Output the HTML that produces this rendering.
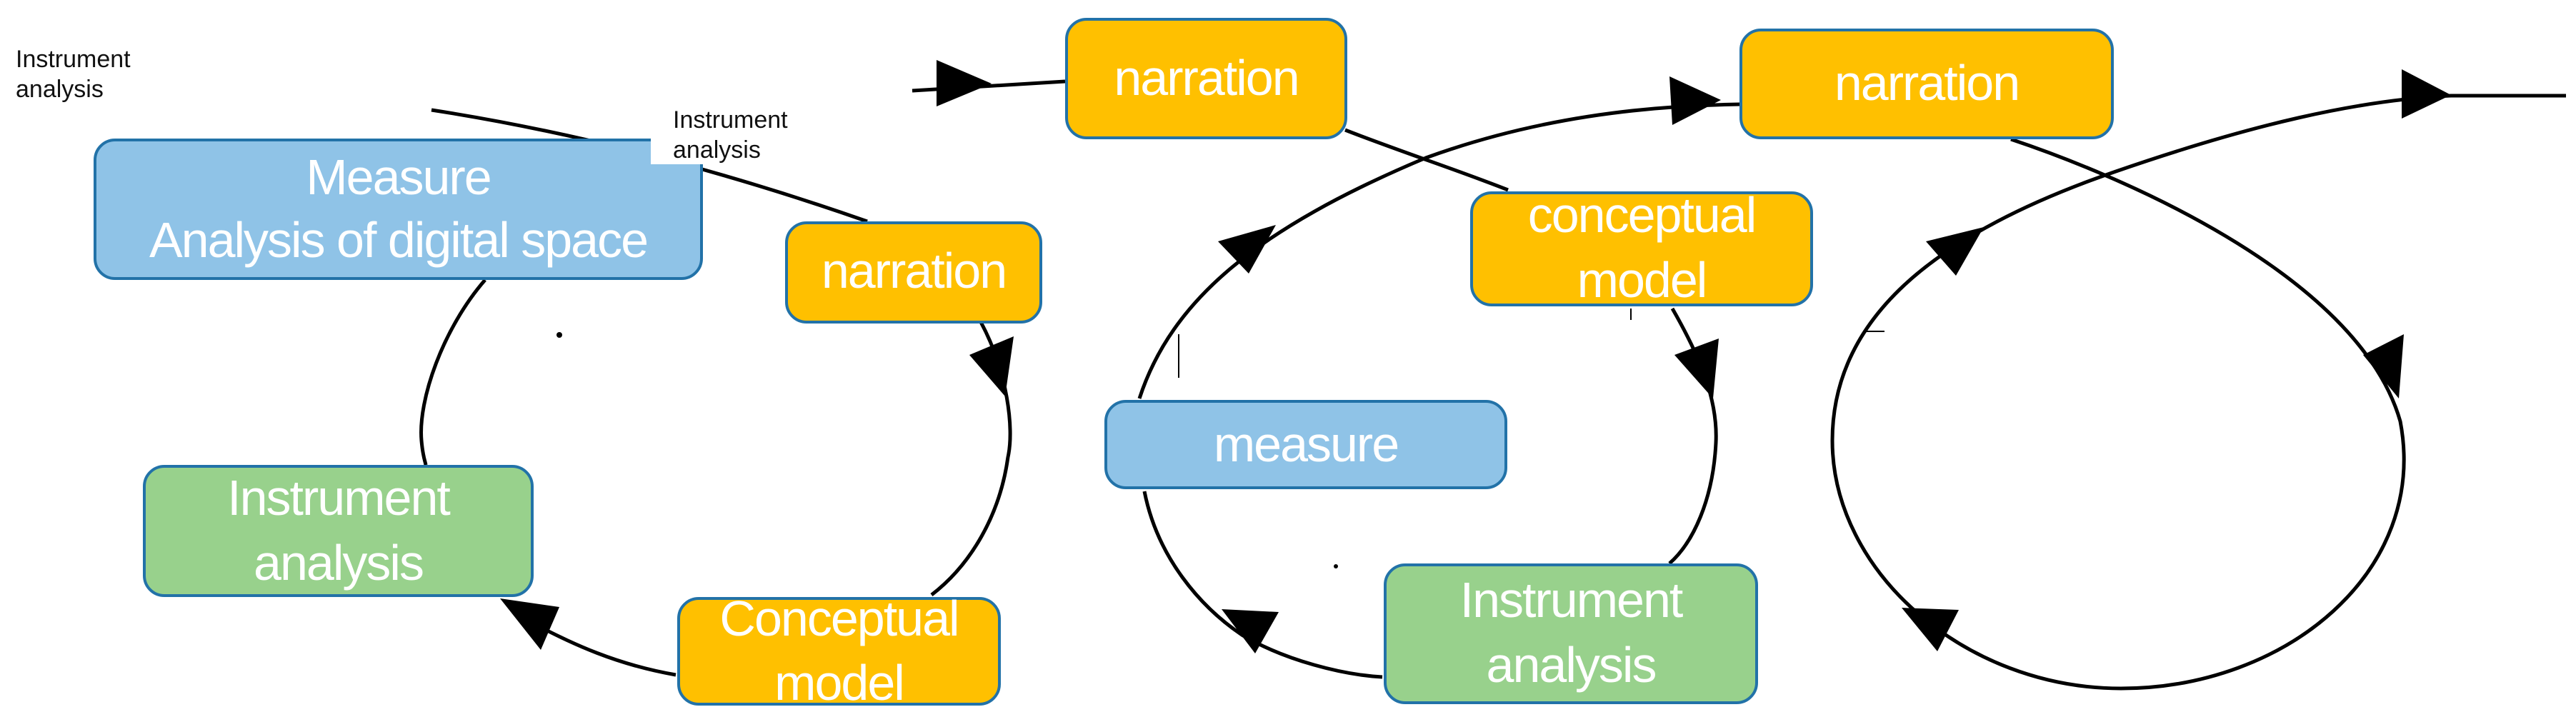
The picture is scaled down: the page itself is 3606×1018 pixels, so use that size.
<!DOCTYPE html>
<html><head><meta charset="utf-8"><style>
html,body{margin:0;padding:0;background:#fff;}
.wrap{position:relative;width:3606px;height:1018px;overflow:hidden;background:#fff;}
svg{position:absolute;left:0;top:0;}
.box{position:absolute;box-sizing:border-box;border:4px solid #2272A8;border-radius:30px;}
.o{background:#FFC000;} .b{background:#8FC3E7;} .g{background:#98D18C;}
.t{position:absolute;color:#fff;font-family:"Liberation Sans",sans-serif;font-size:70px;text-align:center;white-space:nowrap;letter-spacing:-2px;}
.s{position:absolute;color:#111;font-family:"Liberation Sans",sans-serif;font-size:34px;line-height:42px;white-space:nowrap;}
</style></head><body><div class="wrap">
<svg width="3606" height="1018" viewBox="0 0 3606 1018">
<g fill="none" stroke="#000" stroke-width="5">
<path d="M604,154 Q900,200 1214,310"/>
<path d="M1373,451 C1410,520 1420,600 1411,640 C1400,720 1360,790 1304,833"/>
<path d="M946,945 C860,930 800,900 760,880"/>
<path d="M679,392 C620,460 585,560 590,617 C592,640 595,645 596,651"/>
<path d="M1277,127 L1491,114"/>
<path d="M1883,182 C1960,212 2040,238 2111,266"/>
<path d="M1595,558 C1640,420 1760,320 1996,221 C2150,165 2300,148 2436,146"/>
<path d="M2341,432 C2380,500 2405,560 2402,620 C2398,700 2370,760 2337,789"/>
<path d="M1602,688 C1620,780 1680,850 1740,890 C1800,925 1880,945 1935,948"/>
<path d="M2815,195 C2950,240 3300,380 3360,590 C3400,800 3200,964 2969,964 C2750,964 2565,800 2565,617 C2565,450 2700,330 2962,240 C3150,175 3300,140 3431,134 L3592,134"/>
</g>
<g stroke="#000" stroke-width="2">
<line x1="1650" y1="468" x2="1650" y2="529"/>
<line x1="2283" y1="432" x2="2283" y2="448"/>
<line x1="2608" y1="464" x2="2638" y2="464"/>
</g>
<circle cx="783" cy="469" r="4" fill="#000"/>
<circle cx="1870" cy="793" r="3" fill="#000"/>
<g fill="#000">
<polygon points="1311,84 1311,149 1388,117"/>
<polygon points="1357,497 1419,471 1407,555"/>
<polygon points="700,838 783,850 757,910"/>
<polygon points="1705,338 1786,315 1748,383"/>
<polygon points="2337,107 2341,175 2409,140"/>
<polygon points="2344,497 2406,474 2398,558"/>
<polygon points="1710,853 1790,857 1757,915"/>
<polygon points="3308,497 3365,468 3358,558"/>
<polygon points="2662,851 2742,854 2712,912"/>
<polygon points="2696,338 2777,318 2738,386"/>
<polygon points="3362,97 3362,166 3431,133"/>
</g>
</svg>
<div class="box b" style="left:131px;top:194px;width:853px;height:198px"></div>
<div class="t" style="left:131px;top:204px;width:853px;line-height:88px">Measure<br>Analysis of digital space</div>
<div style="position:absolute;left:911px;top:138px;width:210px;height:92px;background:#fff"></div>
<div class="s" style="left:22px;top:62px">Instrument<br>analysis</div>
<div class="s" style="left:942px;top:147px">Instrument<br>analysis</div>

<div class="box o" style="left:1099px;top:310px;width:360px;height:143px"></div>
<div class="t" style="left:1099px;top:334px;width:360px;line-height:90px">narration</div>

<div class="box g" style="left:200px;top:651px;width:547px;height:185px"></div>
<div class="t" style="left:200px;top:652px;width:547px;line-height:91px">Instrument<br>analysis</div>

<div class="box o" style="left:948px;top:836px;width:453px;height:152px"></div>
<div class="t" style="left:948px;top:821px;width:453px;line-height:90px">Conceptual<br>model</div>

<div class="box o" style="left:1491px;top:25px;width:395px;height:170px"></div>
<div class="t" style="left:1491px;top:64px;width:395px;line-height:90px">narration</div>

<div class="box o" style="left:2058px;top:268px;width:480px;height:161px"></div>
<div class="t" style="left:2058px;top:256px;width:480px;line-height:91px">conceptual<br>model</div>

<div class="box b" style="left:1546px;top:560px;width:564px;height:125px"></div>
<div class="t" style="left:1546px;top:577px;width:564px;line-height:90px">measure</div>

<div class="box g" style="left:1937px;top:789px;width:524px;height:197px"></div>
<div class="t" style="left:1937px;top:795px;width:524px;line-height:91px">Instrument<br>analysis</div>

<div class="box o" style="left:2435px;top:40px;width:524px;height:155px"></div>
<div class="t" style="left:2435px;top:71px;width:524px;line-height:90px">narration</div>
</div></body></html>
